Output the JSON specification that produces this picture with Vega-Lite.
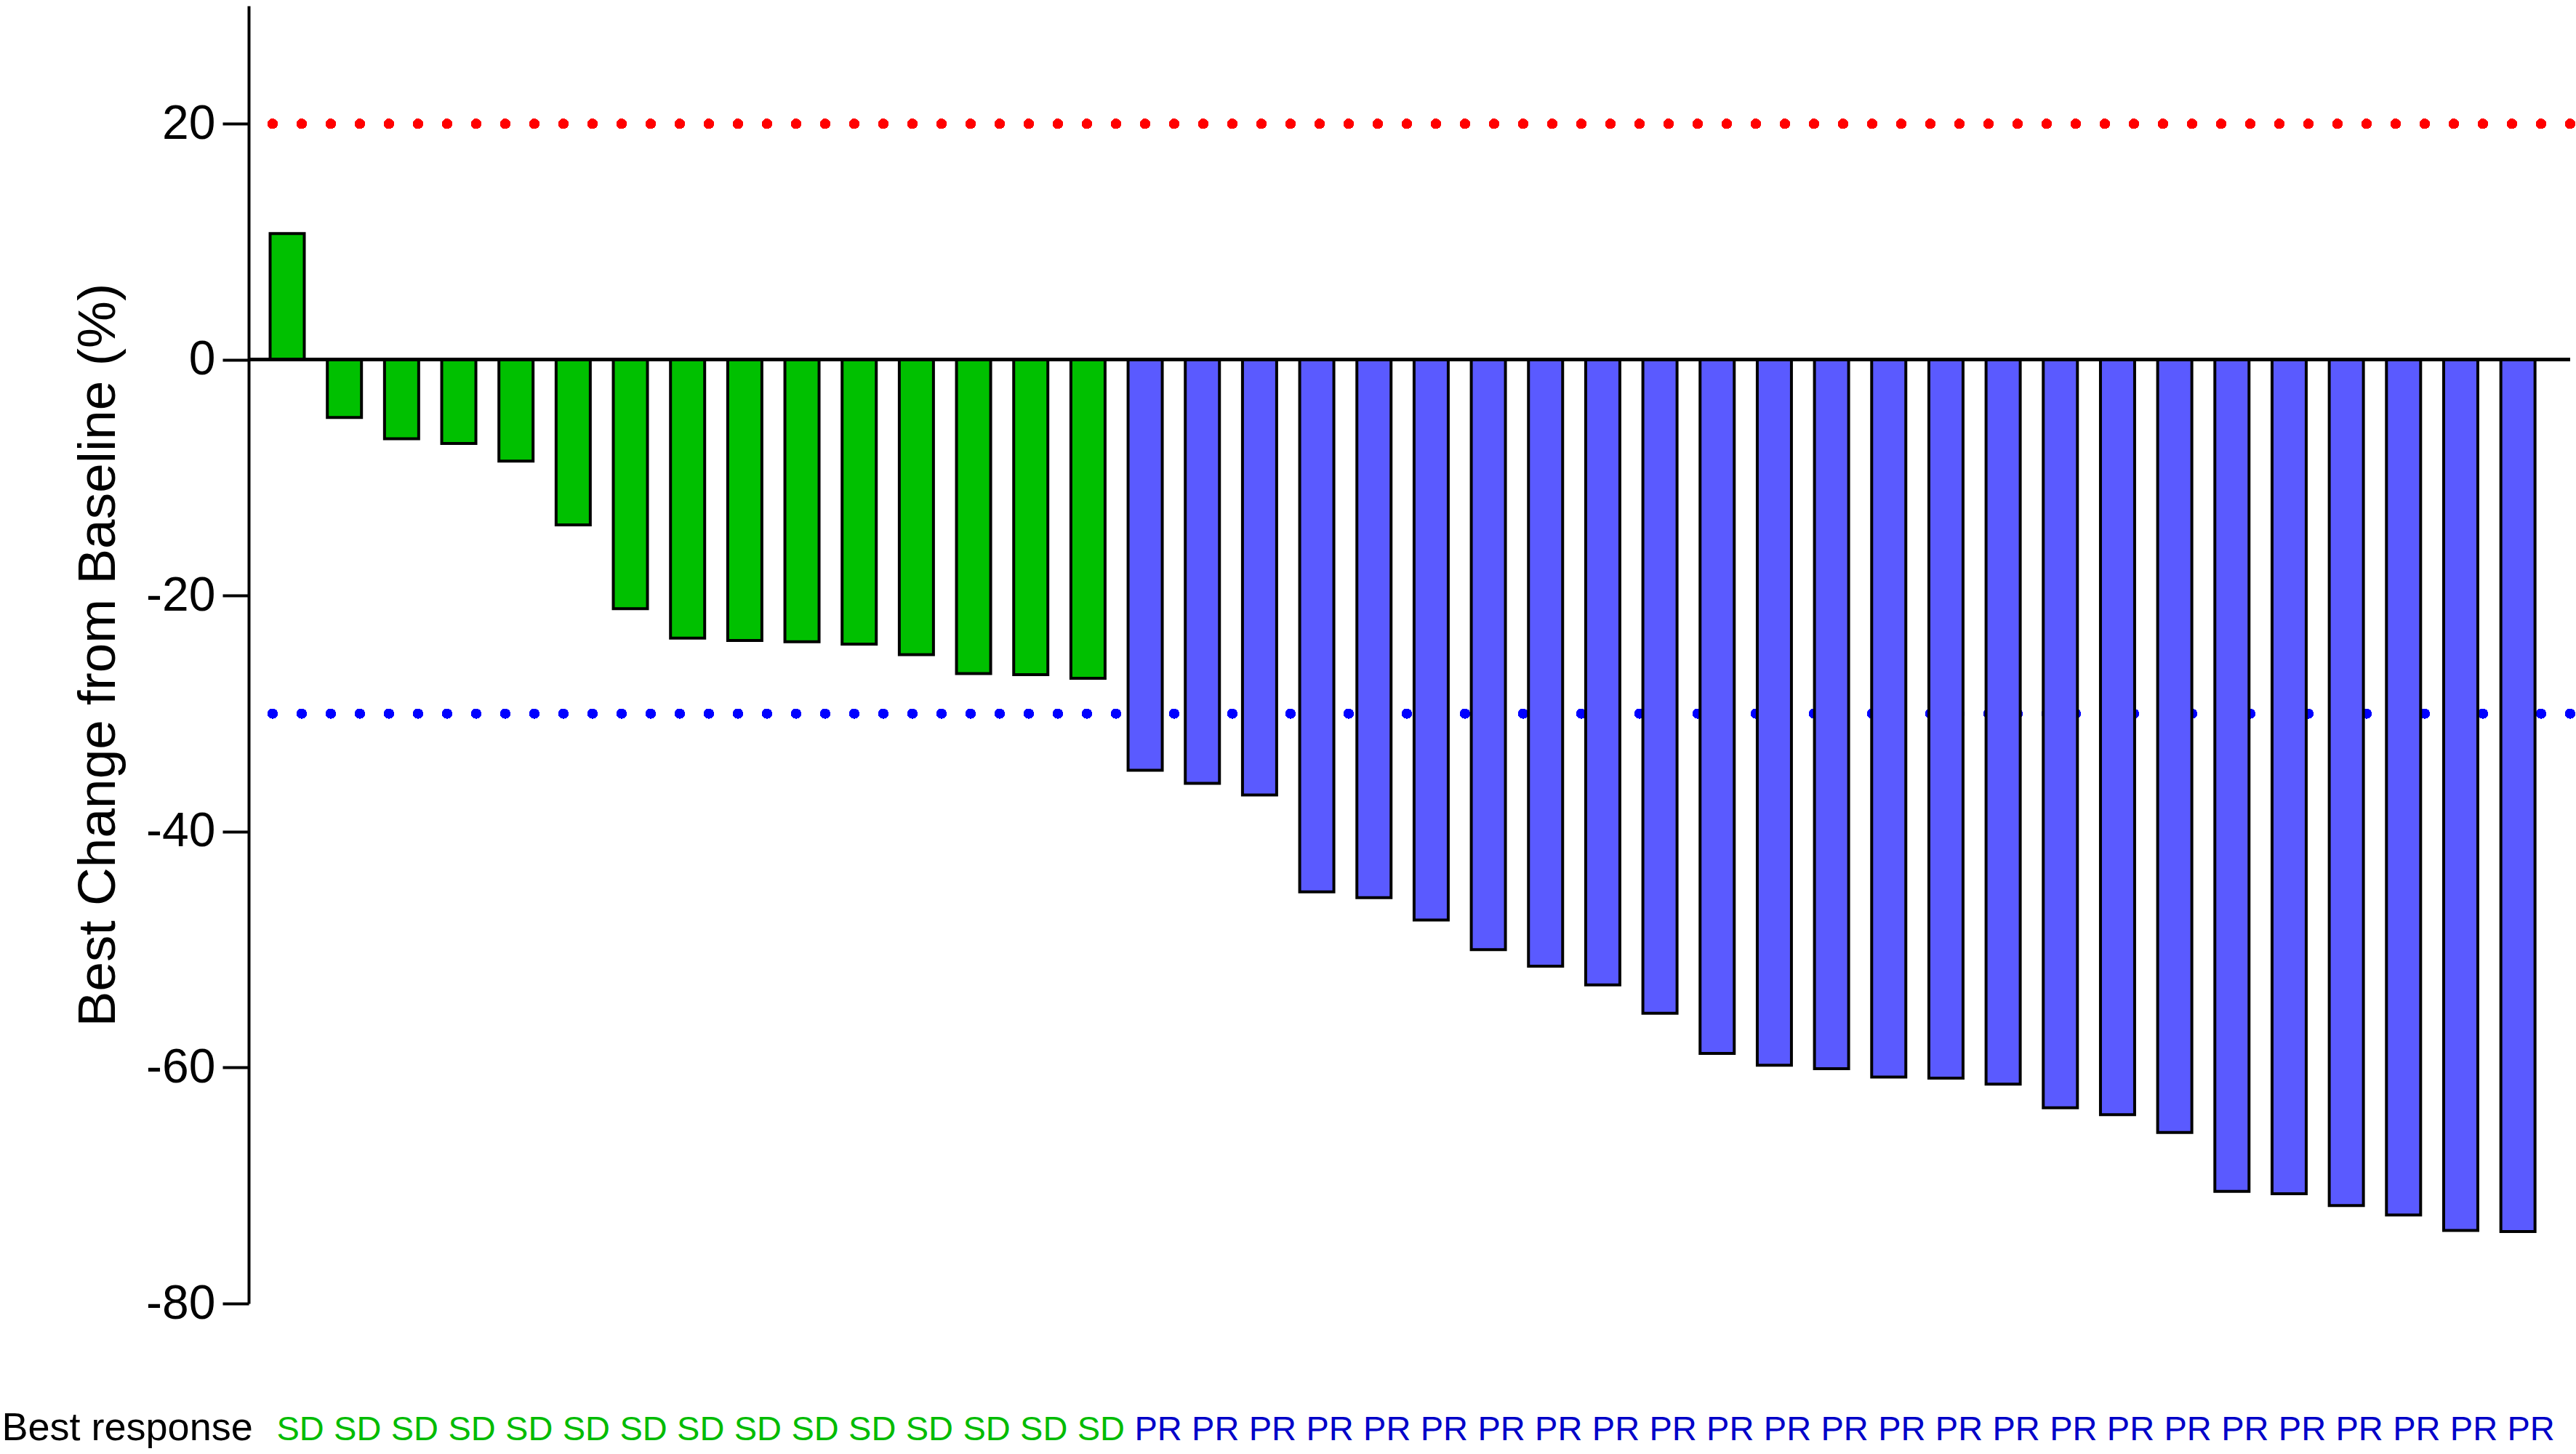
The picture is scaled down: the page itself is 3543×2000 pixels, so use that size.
{
  "$schema": "https://vega.github.io/schema/vega-lite/v6.json",
  "autosize": "none",
  "width": 3193,
  "height": 1785,
  "padding": {"left": 342, "top": 8, "right": 8, "bottom": 207},
  "background": "white",
  "config": {"view": {"stroke": null}, "font": "Liberation Sans"},
  "data": {"values": [
    {"patient": 1, "change": 10.7, "response": "SD"},
    {"patient": 2, "change": -4.9, "response": "SD"},
    {"patient": 3, "change": -6.7, "response": "SD"},
    {"patient": 4, "change": -7.1, "response": "SD"},
    {"patient": 5, "change": -8.6, "response": "SD"},
    {"patient": 6, "change": -14.0, "response": "SD"},
    {"patient": 7, "change": -21.1, "response": "SD"},
    {"patient": 8, "change": -23.6, "response": "SD"},
    {"patient": 9, "change": -23.8, "response": "SD"},
    {"patient": 10, "change": -23.9, "response": "SD"},
    {"patient": 11, "change": -24.1, "response": "SD"},
    {"patient": 12, "change": -25.0, "response": "SD"},
    {"patient": 13, "change": -26.6, "response": "SD"},
    {"patient": 14, "change": -26.7, "response": "SD"},
    {"patient": 15, "change": -27.0, "response": "SD"},
    {"patient": 16, "change": -34.8, "response": "PR"},
    {"patient": 17, "change": -35.9, "response": "PR"},
    {"patient": 18, "change": -36.9, "response": "PR"},
    {"patient": 19, "change": -45.1, "response": "PR"},
    {"patient": 20, "change": -45.6, "response": "PR"},
    {"patient": 21, "change": -47.5, "response": "PR"},
    {"patient": 22, "change": -50.0, "response": "PR"},
    {"patient": 23, "change": -51.4, "response": "PR"},
    {"patient": 24, "change": -53.0, "response": "PR"},
    {"patient": 25, "change": -55.4, "response": "PR"},
    {"patient": 26, "change": -58.8, "response": "PR"},
    {"patient": 27, "change": -59.8, "response": "PR"},
    {"patient": 28, "change": -60.1, "response": "PR"},
    {"patient": 29, "change": -60.8, "response": "PR"},
    {"patient": 30, "change": -60.9, "response": "PR"},
    {"patient": 31, "change": -61.4, "response": "PR"},
    {"patient": 32, "change": -63.4, "response": "PR"},
    {"patient": 33, "change": -64.0, "response": "PR"},
    {"patient": 34, "change": -65.5, "response": "PR"},
    {"patient": 35, "change": -70.5, "response": "PR"},
    {"patient": 36, "change": -70.7, "response": "PR"},
    {"patient": 37, "change": -71.7, "response": "PR"},
    {"patient": 38, "change": -72.5, "response": "PR"},
    {"patient": 39, "change": -73.8, "response": "PR"},
    {"patient": 40, "change": -73.9, "response": "PR"}
  ]},
  "encoding": {
    "x": {
      "field": "patient", "type": "ordinal",
      "scale": {"paddingInner": 0.4026, "paddingOuter": 0.495, "align": 0.379, "round": false},
      "axis": {
        "title": "Best response", "labels": false, "ticks": false, "domain": false,
        "titleX": -340, "titleY": 187, "titleAlign": "left", "titleBaseline": "alphabetic",
        "titleAnchor": null, "titleAngle": 0,
        "titleFontSize": 54, "titleFontWeight": "normal", "titleColor": "black", "titleFont": "Liberation Sans"
      }
    }
  },
  "layer": [
    {
      "mark": {"type": "rule", "color": "#0000FF", "strokeWidth": 13.3, "strokeDash": [0.1, 39.9], "strokeCap": "round"},
      "encoding": {"y": {"datum": -30, "type": "quantitative"}, "x": null}
    },
    {
      "mark": {"type": "bar", "stroke": "black", "strokeWidth": 4},
      "encoding": {
        "y": {
          "field": "change", "type": "quantitative",
          "scale": {"domain": [-80, 30], "nice": false, "zero": false},
          "axis": {
            "values": [-80, -60, -40, -20, 0, 20],
            "labelExpr": "'' + datum.value",
            "title": "Best Change from Baseline (%)",
            "grid": false,
            "domainColor": "black", "domainWidth": 4,
            "tickColor": "black", "tickWidth": 4, "tickSize": 36,
            "labelPadding": 10, "labelFontSize": 66, "labelColor": "black", "labelFont": "Liberation Sans",
            "titleFontSize": 73, "titleFontWeight": "normal", "titleColor": "black", "titleFont": "Liberation Sans",
            "titleX": -185, "titleY": 892.5, "titleAlign": "center", "titleBaseline": "alphabetic", "titleAngle": -90
          }
        },
        "y2": {"datum": 0},
        "color": {
          "field": "response", "type": "nominal",
          "scale": {"domain": ["SD", "PR"], "range": ["#00C000", "#5A5AFF"]},
          "legend": null
        }
      }
    },
    {
      "mark": {"type": "rule", "color": "black", "strokeWidth": 4},
      "encoding": {"y": {"datum": 0, "type": "quantitative"}, "x": null}
    },
    {
      "mark": {"type": "rule", "color": "#FF0000", "strokeWidth": 13.3, "strokeDash": [0.1, 39.9], "strokeCap": "round"},
      "encoding": {"y": {"datum": 20, "type": "quantitative"}, "x": null}
    },
    {
      "mark": {"type": "text", "fontSize": 47, "baseline": "alphabetic", "align": "center", "dx": 18, "font": "Liberation Sans"},
      "encoding": {
        "y": {"datum": -91.58, "type": "quantitative"},
        "text": {"field": "response"},
        "color": {
          "field": "response", "type": "nominal",
          "scale": {"domain": ["SD", "PR"], "range": ["#00BB00", "#0000C8"]},
          "legend": null
        }
      }
    }
  ],
  "resolve": {"scale": {"color": "independent"}}
}
